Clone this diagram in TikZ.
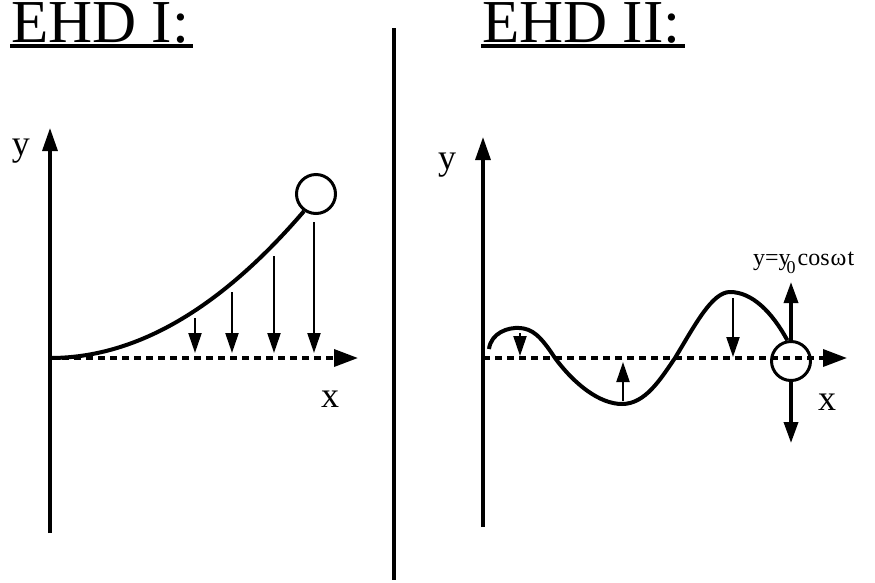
\documentclass[tikz,border=0pt]{standalone}
\usepackage{fontspec}
\setmainfont{Liberation Serif}
\usetikzlibrary{arrows.meta, positioning}

\begin{document}
\begin{tikzpicture}[x=1pt, y=-1pt,
    axis/.style={line width=3.3pt, -{Triangle[length=23pt, width=15pt]}},
    dotaxis/.style={line width=3.5pt, dash pattern=on 7pt off 5pt, -{Triangle[length=24pt, width=17pt]}},
    film/.style={line width=4pt},
    force/.style={line width=2.2pt, -{Triangle[length=20pt, width=13pt]}},
    bigforce/.style={line width=3.5pt, -{Triangle[length=21pt, width=14pt]}},
    drop/.style={circle, draw, line width=3pt, minimum size=39pt, inner sep=0pt},
    lbl/.style={font=\fontsize{36}{36}\selectfont, inner sep=0pt, anchor=base},
    title/.style={font=\fontsize{61}{61}\selectfont, inner sep=0pt, text height=38pt, text depth=0pt, anchor=base west}]

\useasboundingbox (0,0) rectangle (875,582);

% === Titles ===
\node[title] (t1) at (11,42) {EHD I:};
\node[title] (t2) at (482,42) {EHD II:};
\draw[line width=3.5pt] ([xshift=-1pt,yshift=-4pt]t1.base west) -- ([xshift=4pt,yshift=-4pt]t1.base east);
\draw[line width=3.5pt] ([xshift=-1pt,yshift=-4pt]t2.base west) -- ([xshift=4pt,yshift=-4pt]t2.base east);

% divider
\coordinate (d1) at (394,28);
\coordinate (d2) at (394,580);
\draw[line width=4.5pt] (d1) -- (d2);

% === EHD I ===
\coordinate (o1) at (50,358);
\coordinate (y1b) at (50,533);
\coordinate (y1t) at (50,128);
\coordinate (x1t) at (358,358);
\draw[axis] (y1b) -- (y1t);
\draw[dotaxis] (o1) -- (x1t);
\node[lbl] (ylab1) at (21,155) {y};
\node[lbl] (xlab1) at (330,407) {x};

\node[drop] (drop1) at (316,194) {};
\draw[film] (o1) .. controls (136,358) and (220,309) .. (drop1.235);

% pull towards the axis
\foreach \x/\top in {195/318, 232/292, 274/256, 314/222} {
  \coordinate (f\x) at (\x,\top);
  \coordinate (g\x) at (\x,353);
  \draw[force] (f\x) -- (g\x);
}

% === EHD II ===
\coordinate (o2) at (483,358);
\coordinate (y2b) at (483,527);
\coordinate (y2t) at (483,137);
\coordinate (x2t) at (847,358);
\draw[axis] (y2b) -- (y2t);
\draw[dotaxis] (o2) -- (x2t);
\node[lbl] (ylab2) at (447,169) {y};
\node[lbl] (xlab2) at (827,410) {x};

\node[drop] (drop2) at (791,361) {};
\coordinate (w0) at (489,349);
\draw[film] (w0) .. controls (491,333) and (508,327) .. (520,328)
  .. controls (532,329) and (540,335) .. (555,358)
  .. controls (575,385) and (600,404) .. (622,404)
  .. controls (645,404) and (660,380) .. (675,358)
  .. controls (695,325) and (712,292) .. (730,292)
  .. controls (752,292) and (772,312) .. (drop2.100);

% oscillating drop
\coordinate (up) at (791,282);
\coordinate (dn) at (791,443);
\draw[bigforce] (drop2.north) -- (up);
\draw[bigforce] (drop2.south) -- (dn);
\node[font=\fontsize{24}{24}\selectfont, anchor=base west, inner sep=0pt] (osc) at (753,265)
  {y=y\kern-4pt\raisebox{-8pt}{\fontsize{18}{18}\selectfont 0}\kern2pt cos\kern1ptω\kern1ptt};

% restoring forces
\foreach \n/\x/\a/\b in {1/520/333/356, 2/623/401/362, 3/733/298/357} {
  \coordinate (a\n) at (\x,\a);
  \coordinate (b\n) at (\x,\b);
  \draw[force] (a\n) -- (b\n);
}

\end{tikzpicture}
\end{document}
